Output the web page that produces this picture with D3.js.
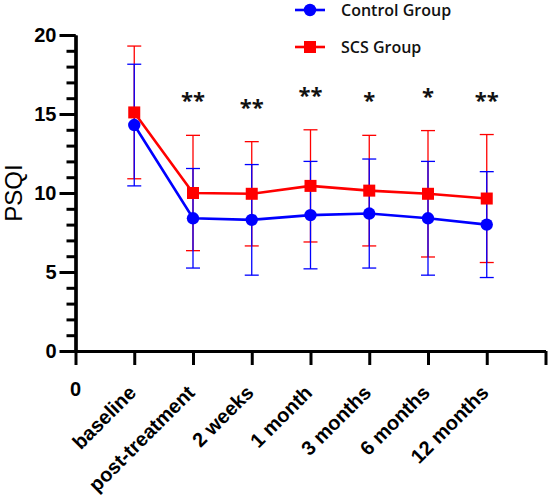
<!DOCTYPE html>
<html>
<head>
<meta charset="utf-8">
<script src="https://cdn.jsdelivr.net/npm/d3@7/dist/d3.min.js"></script>
<style>
  html, body { margin: 0; padding: 0; background: #fff; }
  svg { display: block; }
</style>
</head>
<body>
<svg id="chart" width="550" height="504"></svg>
<script>
// ---- data ----
const categories = ["baseline", "post-treatment", "2 weeks", "1 month", "3 months", "6 months", "12 months"];
const controlMean = [14.3, 8.4, 8.3, 8.6, 8.7, 8.4, 8.0];
const controlSD   = [3.85, 3.15, 3.5, 3.4, 3.45, 3.6, 3.35];
const scsMean     = [15.1, 10.0, 9.95, 10.45, 10.15, 9.95, 9.65];
const scsSD       = [4.2, 3.65, 3.3, 3.55, 3.5, 4.0, 4.05];
const significance = ["", "**", "**", "**", "*", "*", "**"];
const yTicks = [0, 5, 10, 15, 20];
const seriesNames = ["Control Group", "SCS Group"];

// ---- layout ----
const svg = d3.select("#chart");
const x = d3.scaleLinear().domain([0, categories.length + 1]).range([75.5, 545.5]);
const y = d3.scaleLinear().domain([0, 20]).range([351, 35]);
const blue = "#0000ff", red = "#ff0000";
const axisFont = "Liberation Sans, Arial, sans-serif";

// y axis
const yAxisMajor = d3.axisLeft(y).tickValues(yTicks).tickSize(16).tickSizeOuter(0).tickPadding(3).tickFormat(d3.format("d"));
const yAxisMinor = d3.axisLeft(y).tickValues(d3.range(0, 21, 1)).tickSize(9).tickSizeOuter(0).tickFormat("");
const gyMinor = svg.append("g").attr("transform", `translate(${x(0)},0)`).call(yAxisMinor);
const gy = svg.append("g").attr("transform", `translate(${x(0)},0)`).call(yAxisMajor);
[gy, gyMinor].forEach(g => {
  g.selectAll("path").attr("stroke", "#000").attr("stroke-width", 3.2);
  g.selectAll("line").attr("stroke", "#000").attr("stroke-width", 3);
});
gy.selectAll("text").attr("font-family", axisFont)
  .attr("font-weight", "bold").attr("font-size", "20px").attr("fill", "#000");

// x axis
const xTickVals = d3.range(0, categories.length + 2);
const xAxis = d3.axisBottom(x).tickValues(xTickVals).tickSize(14).tickSizeOuter(0).tickFormat("");
const gx = svg.append("g").attr("transform", `translate(0,${y(0)})`).call(xAxis);
gx.selectAll("path").attr("stroke", "#000").attr("stroke-width", 3.2);
gx.selectAll("line").attr("stroke", "#000").attr("stroke-width", 3);

// x tick labels
svg.append("text")
  .attr("x", x(0)).attr("y", y(0) + 45)
  .attr("text-anchor", "middle")
  .attr("font-family", axisFont)
  .attr("font-weight", "bold").attr("font-size", "20px")
  .text("0");
svg.append("g").selectAll("text").data(categories).join("text")
  .attr("transform", (d, i) => `translate(${x(i + 1) + 3},${y(0) + 43}) rotate(-45)`)
  .attr("text-anchor", "end")
  .attr("font-family", axisFont)
  .attr("font-weight", "bold").attr("font-size", "20px")
  .attr("fill", "#000")
  .text(d => d);

// y title
svg.append("text")
  .attr("transform", `translate(22,${y(10)}) rotate(-90)`)
  .attr("text-anchor", "middle")
  .attr("font-family", axisFont)
  .attr("font-size", "24px")
  .text("PSQI");

// series
const series = [
  { name: seriesNames[1], mean: scsMean, sd: scsSD, color: red, shape: "square" },
  { name: seriesNames[0], mean: controlMean, sd: controlSD, color: blue, shape: "circle" }
];

// error bars
const capW = 7;
series.forEach(s => {
  const g = svg.append("g").attr("stroke", s.color).attr("stroke-width", 1.3).attr("fill", "none");
  s.mean.forEach((m, i) => {
    const cx = x(i + 1);
    const top = y(m + s.sd[i]), bot = y(m - s.sd[i]);
    g.append("line").attr("x1", cx).attr("x2", cx).attr("y1", top).attr("y2", bot);
    g.append("line").attr("x1", cx - capW).attr("x2", cx + capW).attr("y1", top).attr("y2", top);
    g.append("line").attr("x1", cx - capW).attr("x2", cx + capW).attr("y1", bot).attr("y2", bot);
  });
});

// lines + markers
const line = d3.line().x((d, i) => x(i + 1)).y(d => y(d));
series.forEach(s => {
  svg.append("path").datum(s.mean).attr("d", line)
    .attr("fill", "none").attr("stroke", s.color).attr("stroke-width", 2.6);
  const g = svg.append("g").attr("fill", s.color);
  if (s.shape === "circle") {
    g.selectAll("circle").data(s.mean).join("circle")
      .attr("cx", (d, i) => x(i + 1)).attr("cy", d => y(d)).attr("r", 6.2);
  } else {
    g.selectAll("rect").data(s.mean).join("rect")
      .attr("x", (d, i) => x(i + 1) - 6).attr("y", d => y(d) - 6)
      .attr("width", 12).attr("height", 12);
  }
});

// significance marks
svg.append("g").selectAll("text").data(significance).join("text")
  .attr("x", (d, i) => x(i + 1))
  .attr("y", (d, i) => y(scsMean[i] + scsSD[i]) - 38 + 11)
  .attr("text-anchor", "middle")
  .attr("font-family", "Open Sans, sans-serif")
  .attr("font-weight", "bold")
  .attr("font-size", "22px")
  .attr("fill", "#111")
  .text(d => d);

// legend
const legendItems = [
  { name: seriesNames[0], color: blue, shape: "circle" },
  { name: seriesNames[1], color: red, shape: "square" }
];
const lg = svg.append("g");
legendItems.forEach((it, k) => {
  const ly = 10 + k * 37;
  lg.append("line").attr("x1", 295).attr("x2", 325).attr("y1", ly).attr("y2", ly)
    .attr("stroke", it.color).attr("stroke-width", 2.6);
  if (it.shape === "circle") {
    lg.append("circle").attr("cx", 310).attr("cy", ly).attr("r", 6.2).attr("fill", it.color);
  } else {
    lg.append("rect").attr("x", 304).attr("y", ly - 6).attr("width", 12).attr("height", 12).attr("fill", it.color);
  }
  lg.append("text").attr("x", 341).attr("y", ly + 5.5)
    .attr("font-family", "Open Sans, sans-serif").attr("font-weight", 600)
    .attr("font-size", "16px").attr("fill", "#111")
    .text(it.name);
});
</script>
</body>
</html>
